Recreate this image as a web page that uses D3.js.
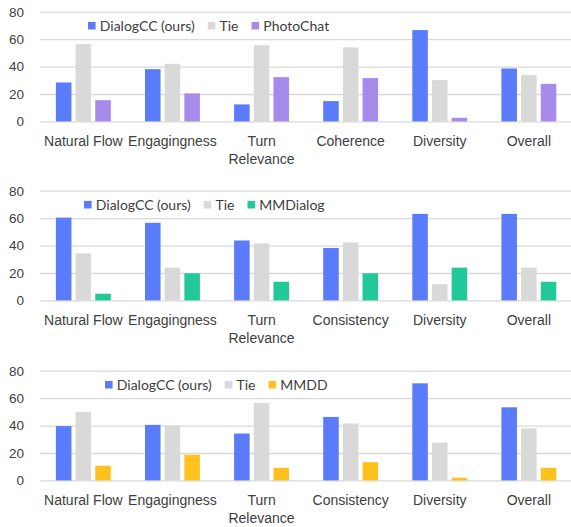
<!DOCTYPE html>
<html>
<head>
<meta charset="utf-8">
<script src="https://cdn.jsdelivr.net/npm/d3@7"></script>
<style>
  body { margin: 0; background: #fff; }
  svg { font-family: Lato, "Open Sans", sans-serif; }
  .tick text { fill: #404040; }
</style>
</head>
<body>
<div id="chart"></div>
<script>
// categories per panel
var cats1 = ["Natural Flow", "Engagingness", "Turn Relevance", "Coherence", "Diversity", "Overall"];
var cats2 = ["Natural Flow", "Engagingness", "Turn Relevance", "Consistency", "Diversity", "Overall"];
var cats3 = ["Natural Flow", "Engagingness", "Turn Relevance", "Consistency", "Diversity", "Overall"];

// series names per panel
var series1 = ["DialogCC (ours)", "Tie", "PhotoChat"];
var series2 = ["DialogCC (ours)", "Tie", "MMDialog"];
var series3 = ["DialogCC (ours)", "Tie", "MMDD"];

// values (%)
var ours1 = [28.4, 38.1, 12.4, 14.8, 66.6, 38.6];
var tie1 = [56.4, 42.0, 55.6, 54.0, 30.1, 33.8];
var photochat = [15.5, 20.4, 32.3, 31.6, 2.6, 27.4];

var ours2 = [60.4, 56.6, 43.7, 38.2, 63.1, 63.1];
var tie2 = [34.3, 23.9, 41.6, 42.3, 11.8, 23.9];
var mmdialog = [4.9, 19.8, 13.6, 19.8, 23.9, 13.6];

var ours3 = [39.6, 40.5, 34.2, 46.3, 70.8, 53.3];
var tie3 = [50.0, 40.0, 56.5, 41.5, 27.6, 38.0];
var mmdd = [10.7, 18.7, 9.2, 13.3, 2.0, 9.2];

var yTicks = [0, 20, 40, 60, 80];

var panels = [
  { cats: cats1, series: series1, values: [ours1, tie1, photochat], colors: ["#5b7cfa", "#d9d9d9", "#a68beb"], top: 11.7, legendX: 88 },
  { cats: cats2, series: series2, values: [ours2, tie2, mmdialog], colors: ["#5b7cfa", "#d9d9d9", "#20c997"], top: 190.7, legendX: 84 },
  { cats: cats3, series: series3, values: [ours3, tie3, mmdd], colors: ["#5b7cfa", "#d9d9d9", "#ffc11e"], top: 370.7, legendX: 105 }
];

var svgWidth = 571;
var svgHeight = 527;
var plotLeft = 40;
var plotHeight = 109.7;

var svg = d3.select("#chart")
  .append("svg")
  .attr("width", svgWidth)
  .attr("height", svgHeight);

// wrap category labels that don't fit in a band
function wrap(text, width) {
  text.each(function() {
    var t = d3.select(this);
    var words = t.text().split(" ");
    var y = t.attr("y");
    t.text(null);
    var line = [];
    var lineNo = 0;
    var tspan = t.append("tspan").attr("x", 0).attr("y", y);
    words.forEach(function(w) {
      line.push(w);
      tspan.text(line.join(" "));
      if (tspan.node().getComputedTextLength() > width && line.length > 1) {
        line.pop();
        tspan.text(line.join(" "));
        line = [w];
        lineNo++;
        tspan = t.append("tspan").attr("x", 0).attr("y", +y + lineNo * 18.5).text(w);
      }
    });
  });
}

panels.forEach(function(p) {
  var g = svg.append("g").attr("transform", `translate(0, ${p.top})`);

  var x0 = d3.scaleBand()
    .domain(p.cats)
    .range([38.8, 38.8 + 6 * 89.1]);

  var x1 = d3.scaleBand()
    .domain(p.series)
    .range([-27.45, 27.45])
    .paddingInner(0.21);

  var y = d3.scaleLinear()
    .domain([0, 80])
    .range([plotHeight, 0]);

  // gridlines + tick labels
  var leftAxis = d3.axisLeft(y).tickValues(yTicks).tickSize(-(svgWidth - plotLeft)).tickPadding(16);
  var yAxis = g.append("g")
    .attr("transform", `translate(${plotLeft}, 0)`)
    .call(leftAxis);
  yAxis.select(".domain").remove();
  yAxis.selectAll(".tick line").attr("stroke", "#d9d9d9").attr("stroke-width", 1.3);
  yAxis.selectAll(".tick text")
    .attr("font-size", 13.5)
    .style("font-variant-numeric", "oldstyle-nums")
    .attr("fill", "#404040");

  // bars
  var rows = p.cats.map(function(c, i) {
    return p.series.map(function(s, j) {
      return { cat: c, series: s, value: p.values[j][i], color: p.colors[j] };
    });
  });

  g.selectAll(".group")
    .data(rows)
    .enter()
    .append("g")
    .attr("transform", d => `translate(${x0(d[0].cat) + x0.bandwidth() / 2}, 0)`)
    .selectAll("rect")
    .data(d => d)
    .enter()
    .append("rect")
    .attr("x", d => x1(d.series))
    .attr("width", x1.bandwidth())
    .attr("y", d => y(d.value))
    .attr("height", d => y(0) - y(d.value))
    .attr("fill", d => d.color);

  // category labels
  var bottomAxis = d3.axisBottom(x0).tickSize(0);
  var xAxis = g.append("g")
    .attr("transform", `translate(0, ${plotHeight})`)
    .call(bottomAxis);
  xAxis.select(".domain").remove();
  xAxis.selectAll(".tick text")
    .attr("font-size", 14)
    .attr("fill", "#404040")
    .attr("y", 24.5)
    .attr("dy", null)
    .call(wrap, 89);

  // legend
  var legend = g.append("g").attr("transform", `translate(${p.legendX}, 14)`);
  var lx = 0;
  p.series.forEach(function(s, j) {
    legend.append("rect")
      .attr("x", lx)
      .attr("y", -3.8)
      .attr("width", 7.6)
      .attr("height", 7.6)
      .attr("fill", p.colors[j]);
    var t = legend.append("text")
      .attr("x", lx + 11.8)
      .attr("y", 5)
      .attr("font-size", 14)
      .attr("fill", "#404040")
      .text(s);
    lx += 11.8 + t.node().getComputedTextLength() + 13;
  });
});
</script>
</body>
</html>
